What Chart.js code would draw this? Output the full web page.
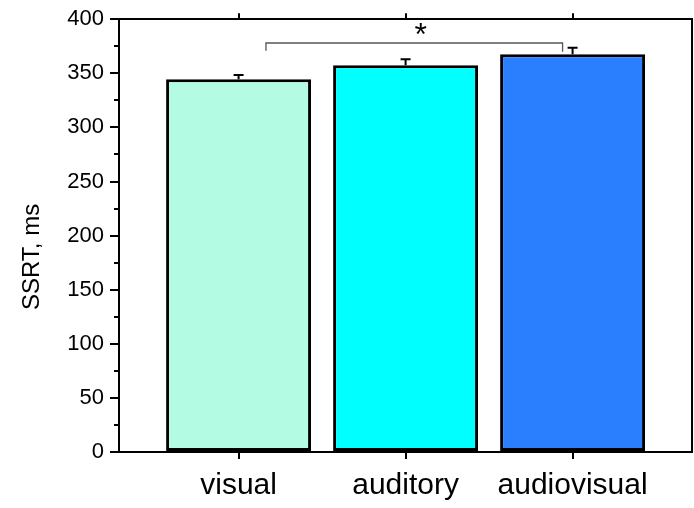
<!DOCTYPE html>
<html><head><meta charset="utf-8">
<script src="https://cdn.jsdelivr.net/npm/chart.js@4"></script>
<style>html,body{margin:0;padding:0;background:#fff;overflow:hidden}canvas{display:block}</style>
</head><body>
<canvas id="c" width="694" height="508"></canvas>
<script>
// ---- data ----
const categories = ['visual', 'auditory', 'audiovisual'];
const ssrtMeans  = [344.5, 357.5, 367.5];
const ssrtErrors = [4.0, 5.5, 6.0];
const barColors  = ['#b3fce3', '#00ffff', '#2a7fff'];
const yMajorTicks = [0, 50, 100, 150, 200, 250, 300, 350, 400];
const yMinorTicks = [0, 25, 50, 75, 100, 125, 150, 175, 200, 225, 250, 275, 300, 325, 350, 375, 400];
const yTitle = 'SSRT, ms';
// significance bracket (data units: x = category position 1..3, y = ms)
const sigBracketX = [1.164, 2.94];
const sigBracketY = 378;
const sigLegEndY = [370.8, 370];
const sigLabel = '*';
const sigLabelAt = [2.09, 388];

const positions = categories.map((_, i) => i + 1);

const errorBarPlugin = {
  id: 'errorBars',
  afterDatasetsDraw(chart) {
    const ys = chart.scales.y;
    const meta = chart.getDatasetMeta(0);
    const ctx = chart.ctx;
    ctx.save();
    ctx.strokeStyle = '#000';
    ctx.lineWidth = 2;
    meta.data.forEach((bar, i) => {
      const top = ys.getPixelForValue(ssrtMeans[i] + ssrtErrors[i]);
      ctx.beginPath();
      ctx.moveTo(bar.x, bar.y);
      ctx.lineTo(bar.x, top);
      ctx.moveTo(bar.x - 5, top);
      ctx.lineTo(bar.x + 5, top);
      ctx.stroke();
    });
    ctx.restore();
  }
};

const sigPlugin = {
  id: 'sig',
  afterDatasetsDraw(chart) {
    const xs = chart.scales.x, ys = chart.scales.y, ctx = chart.ctx;
    const x1 = xs.getPixelForValue(sigBracketX[0]);
    const x2 = xs.getPixelForValue(sigBracketX[1]);
    const y = ys.getPixelForValue(sigBracketY);
    ctx.save();
    ctx.strokeStyle = '#555';
    ctx.lineWidth = 1.3;
    ctx.beginPath();
    ctx.moveTo(x1, ys.getPixelForValue(sigLegEndY[0]));
    ctx.lineTo(x1, y);
    ctx.lineTo(x2, y);
    ctx.lineTo(x2, ys.getPixelForValue(sigLegEndY[1]));
    ctx.stroke();
    ctx.fillStyle = '#000';
    ctx.font = '32px "Liberation Sans", Arial, sans-serif';
    ctx.textAlign = 'center';
    ctx.textBaseline = 'middle';
    ctx.fillText(sigLabel, xs.getPixelForValue(sigLabelAt[0]), ys.getPixelForValue(sigLabelAt[1]) + 4);
    ctx.restore();
  }
};

const sans = '"Liberation Sans", Arial, sans-serif';

new Chart(document.getElementById('c'), {
  type: 'bar',
  data: {
    datasets: [{
      data: positions.map((p, i) => ({ x: p, y: ssrtMeans[i] })),
      backgroundColor: barColors,
      borderColor: '#000',
      borderWidth: 3,
      borderSkipped: false,
      categoryPercentage: 1,
      barPercentage: 0.868
    }]
  },
  options: {
    responsive: false,
    animation: false,
    devicePixelRatio: 1,
    layout: { padding: { left: 0, right: 2, top: 0, bottom: 0 } },
    plugins: { legend: { display: false }, tooltip: { enabled: false } },
    scales: {
      x: {
        type: 'linear', position: 'bottom', min: 0.284, max: 3.715, offset: false,
        afterBuildTicks: s => { s.ticks = positions.map(v => ({ value: v })); },
        afterFit: s => { s.height = 56; },
        grid: { offset: false, drawOnChartArea: false, color: '#000', lineWidth: 2, tickLength: 7 },
        border: { display: true, color: '#000', width: 2 },
        ticks: {
          color: '#000', padding: 9, maxRotation: 0, autoSkip: false,
          font: { family: sans, size: 30 },
          callback: v => categories[Math.round(v) - 1] || ''
        }
      },
      xTop: {
        type: 'linear', position: 'top', min: 0.284, max: 3.715, offset: false,
        afterBuildTicks: s => { s.ticks = positions.map(v => ({ value: v })); },
        afterFit: s => { s.height = 16; },
        grid: { offset: false, drawOnChartArea: false, color: '#000', lineWidth: 2, tickLength: 6 },
        border: { display: true, color: '#000', width: 2 },
        ticks: { display: false }
      },
      y: {
        type: 'linear', position: 'left', min: 0, max: 400, weight: 1,
        afterBuildTicks: s => { s.ticks = yMajorTicks.map(v => ({ value: v })); },
        afterFit: s => { s.width = 119; },
        grid: { drawOnChartArea: false, color: '#000', lineWidth: 2, tickLength: 9 },
        border: { display: true, color: '#000', width: 2 },
        ticks: { color: '#000', padding: 6, font: { family: sans, size: 22 } },
        title: { display: true, text: yTitle + '\u2002\u2002\u2002 ', color: '#000',
                 padding: { top: 18, bottom: 0 }, font: { family: sans, size: 24 } }
      },
      yMinor: {
        type: 'linear', position: 'left', min: 0, max: 400, weight: 0,
        afterBuildTicks: s => { s.ticks = yMinorTicks.map(v => ({ value: v })); },
        afterFit: s => { s.width = 0; },
        grid: { drawOnChartArea: false, color: '#000', lineWidth: 2, tickLength: 5 },
        border: { display: false },
        ticks: { display: false }
      },
      yRight: {
        type: 'linear', position: 'right', min: 0, max: 400,
        afterFit: s => { s.width = 0; },
        grid: { display: false },
        border: { display: true, color: '#000', width: 2 },
        ticks: { display: false }
      }
    }
  },
  plugins: [errorBarPlugin, sigPlugin]
});
</script>
</body></html>
